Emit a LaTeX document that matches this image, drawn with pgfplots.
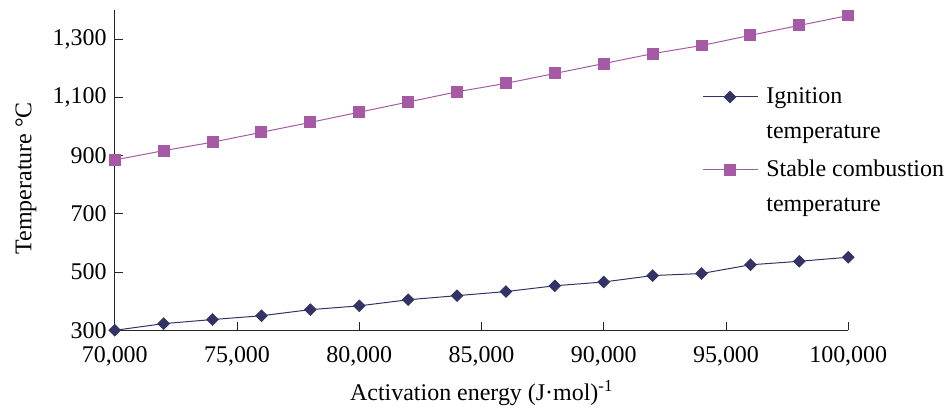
\documentclass[border=0pt]{standalone}
\usepackage{pgfplots}
\pgfplotsset{compat=1.18}
\usepackage{fontspec}
\setmainfont{Liberation Serif}
\definecolor{ign}{RGB}{51,51,102}
\definecolor{stab}{RGB}{166,90,166}
\newcommand{\bigfont}{\rmfamily\fontsize{24}{29}\selectfont}
\begin{document}
\bigfont
\begin{tikzpicture}
\begin{axis}[
  name=ax,
  scale only axis, width=735pt, height=321pt,
  xmin=70000, xmax=100000, ymin=300, ymax=1400,
  enlargelimits=false,
  scaled x ticks=false, scaled y ticks=false,
  axis x line=bottom, axis y line=left,
  axis line style={-, line width=0.9pt, color=black!85},
  xtick={70000,75000,80000,85000,90000,95000,100000},
  xticklabels={{70,000},{75,000},{80,000},{85,000},{90,000},{95,000},{100,000}},
  ytick={300,500,700,900,1100,1300},
  yticklabels={{300},{500},{700},{900},{1,100},{1,300}},
  tick align=inside, major tick length=8pt,
  tick style={line width=0.9pt, color=black!85},
  tick label style={font=\bigfont},
  xticklabel style={yshift=-8pt},
  label style={font=\bigfont},
  xlabel style={yshift=2pt},
  ylabel style={at={(ticklabel cs:0.475)}},
  xlabel={Activation energy (J·mol)\textsuperscript{-1}},
  ylabel={Temperature °C},
  legend style={at={(0.797,0.772)}, anchor=north west, draw=none, fill=none,
    font=\bigfont, row sep=14pt, /tikz/every odd column/.append style={column sep=6pt}},
  legend cell align=left,
  legend image code/.code={\draw[mark repeat=2,mark phase=2] plot coordinates {(0pt,0pt) (27pt,0pt) (55pt,0pt)};},
]
\addplot[color=ign, line width=1pt, mark=square*, mark size=4pt, mark options={rotate=45, fill=ign}] coordinates {
(70000,300) (72000,323) (74000,337) (76000,350) (78000,371) (80000,384)
(82000,405) (84000,419) (86000,433) (88000,453) (90000,466) (92000,488)
(94000,495) (96000,525) (98000,537) (100000,551)};
\addlegendentry{Ignition}
\addlegendimage{empty legend}
\addlegendentry{temperature}
\addplot[color=stab, line width=1pt, mark=square*, mark size=5.5pt, mark options={fill=stab}] coordinates {
(70000,885) (72000,917) (74000,946) (76000,980) (78000,1014) (80000,1049)
(82000,1084) (84000,1119) (86000,1148) (88000,1182) (90000,1216) (92000,1250)
(94000,1278) (96000,1313) (98000,1347) (100000,1381)};
\addlegendentry{Stable combustion}
\addlegendimage{empty legend}
\addlegendentry{temperature}
\end{axis}
\path ([xshift=-115pt,yshift=-75pt]ax.south west) rectangle ([xshift=99pt,yshift=10pt]ax.north east);
\end{tikzpicture}
\end{document}
